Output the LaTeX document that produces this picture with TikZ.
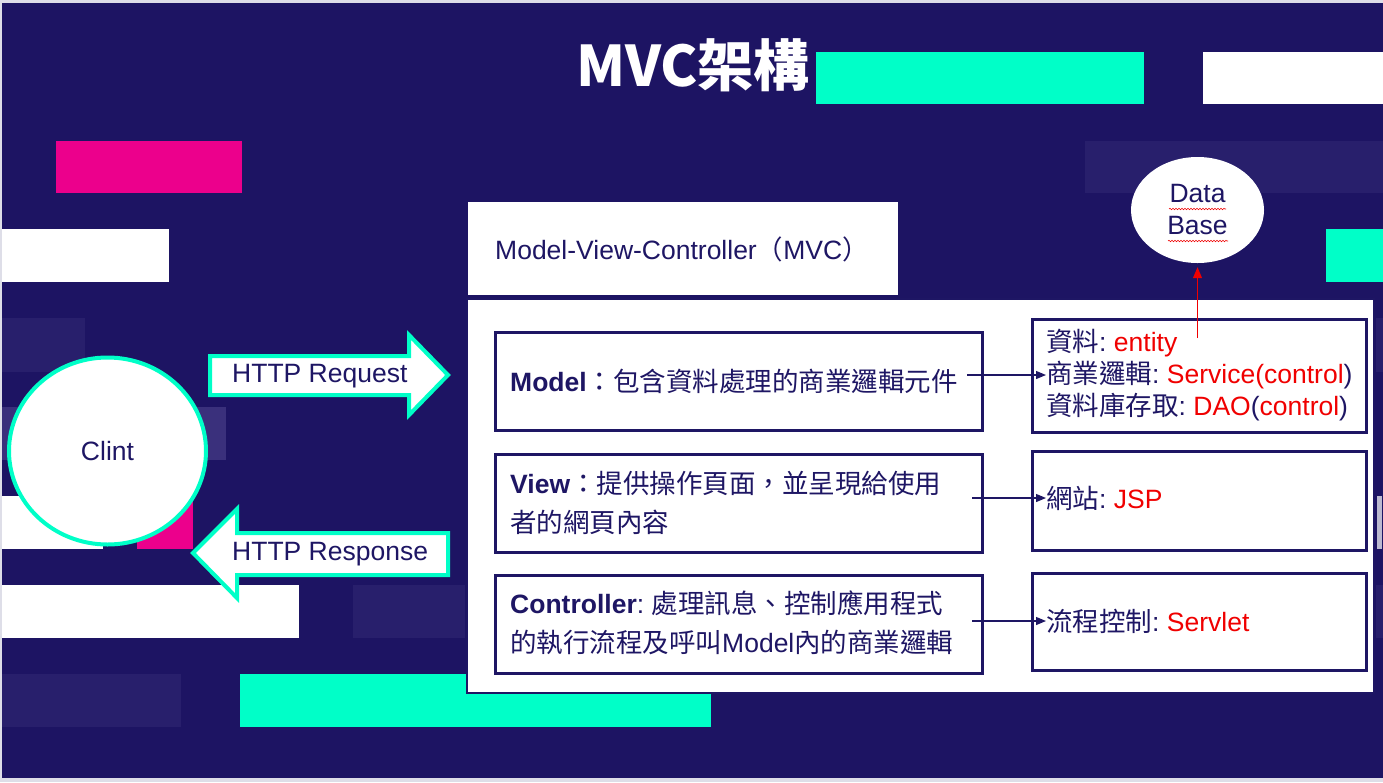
\documentclass[tikz,border=0pt]{standalone}
\usepackage{fontspec}
\setmainfont{Liberation Sans}
\newfontfamily\cjk{Noto Sans CJK TC}
\usetikzlibrary{arrows.meta,calc,shapes.geometric,decorations.pathmorphing}

\definecolor{navy}{RGB}{29,20,99}
\definecolor{ink}{RGB}{30,22,100}
\definecolor{mint}{RGB}{0,255,200}
\definecolor{hotpink}{RGB}{236,0,140}
\definecolor{dimA}{RGB}{40,31,108}
\definecolor{dimB}{RGB}{58,48,124}
\definecolor{pageframe}{RGB}{222,222,232}
\definecolor{alert}{RGB}{240,0,0}

\newcommand\txtsize{\fontsize{26.5}{39}\selectfont\frenchspacing}
\newcommand\listsize{\fontsize{26.5}{32}\selectfont\frenchspacing}

\begin{document}
\begin{tikzpicture}[x=1pt,y=-1pt,
  lbox/.style={draw=ink, line width=3pt, fill=white, minimum width=487pt,
    minimum height=98pt, inner sep=0pt, anchor=north west},
  rbox/.style={draw=ink, line width=3pt, fill=white, minimum width=334pt,
    minimum height=100pt, inner sep=0pt, anchor=north west},
  txt/.style={anchor=west, inner sep=0pt, text=ink, font=\txtsize, align=left},
  lst/.style={anchor=west, inner sep=0pt, text=ink, font=\listsize, align=left},
  link/.style={draw=ink, line width=1.2pt, -{Triangle[length=10pt,width=8pt]}},
  blockarrow/.style={draw=mint, line width=4pt, fill=white, line join=miter},
  squiggle/.style={draw=alert, line width=0.6pt, decorate,
    decoration={snake, amplitude=0.7pt, segment length=3pt}}]

\useasboundingbox (0,0) rectangle (1383,782);

% slide background
\fill[pageframe] (0,0) rectangle (1383,782);
\fill[navy] (1.5,3) rectangle (1383,778);

% decorative bars
\fill[mint] (816,52) rectangle (1144,104);
\fill[white] (1203,52) rectangle (1383,104);
\fill[hotpink] (56,141) rectangle (242,193);
\fill[dimA] (1085,141) rectangle (1383,193);
\fill[white] (1.5,229) rectangle (169,282);
\fill[mint] (1326,229) rectangle (1383,282);
\fill[dimA] (1.5,318) rectangle (85,372);
\fill[dimB] (1.5,407) rectangle (226,460);
\fill[white] (1.5,496) rectangle (103,549);
\fill[hotpink] (137,496) rectangle (193,549);
\fill[white] (1.5,585) rectangle (299,638);
\fill[dimA] (353,585) rectangle (465,638);
\fill[dimA] (1.5,674) rectangle (181,727);
\fill[mint] (240,674) rectangle (711,727);
\fill[dimA] (1376,318) rectangle (1383,372);
\fill[white!70!navy] (1377,496) rectangle (1382,549);
\fill[dimA] (1376,585) rectangle (1383,638);

% title
\node[text=white, font={\cjk\bfseries\fontsize{56}{60}\selectfont}, inner sep=0pt]
  (title) at (693,65) {MVC架構};

% panel and its heading
\node[draw=ink, line width=1.5pt, fill=white, anchor=north west,
  minimum width=907pt, minimum height=394pt, inner sep=0pt] (panel) at (466,298) {};
\node[fill=white, anchor=north west, minimum width=430pt, minimum height=93pt,
  inner sep=0pt] (head) at (468,202) {};
\node[txt] (headtxt) at (495,249) {Model-View-Controller{\cjk （}MVC{\cjk ）}};

% layer boxes
\node[lbox] (model) at (494,331) {};
\node[lbox] (view)  at (494,453) {};
\node[lbox] (ctrl)  at (494,574) {};
\node[txt] (mtxt) at (510,381) {{\bfseries Model}{\cjk ：包含資料處理的商業邏輯元件}};
\node[txt] (vtxt) at (510,503) {{\bfseries View}{\cjk ：提供操作頁面，並呈現給使用}\\{\cjk 者的網頁內容}};
\node[txt] (ctxt) at (510,623) {{\bfseries Controller}: {\cjk 處理訊息、控制應用程式}\\{\cjk 的執行流程及呼叫}Model{\cjk 內的商業邏輯}};

% implementation boxes
\node[rbox, minimum height=113pt] (mimpl) at (1031,318) {};
\node[rbox, minimum height=99pt]  (vimpl) at (1031,450) {};
\node[rbox, minimum height=97pt]  (cimpl) at (1031,572) {};
\node[lst] (mr) at (1046,375) {{\cjk 資料}: \textcolor{alert}{entity}\\
  {\cjk 商業邏輯}: \textcolor{alert}{Service(control}\kern0pt)\\
  {\cjk 資料庫存取}: \textcolor{alert}{DAO}(\textcolor{alert}{control})};
\node[lst] (vr) at (1046,498) {{\cjk 網站}: \textcolor{alert}{JSP}};
\node[lst] (cr) at (1046,621) {{\cjk 流程控制}: \textcolor{alert}{Servlet}};

\draw[link] ($(model.east |- mr.west)+(-17,0)$) -- (mr.west);
\draw[link] ($(view.east |- vr.west)+(-12,0)$) -- (vr.west);
\draw[link] ($(ctrl.east |- cr.west)+(-12,0)$) -- (cr.west);

% database
\node[ellipse, fill=white, minimum width=133pt, minimum height=106pt, inner sep=0pt,
  align=center, text=ink, font=\listsize] (db) at (1197.5,210) {Data\\Base};
\draw[squiggle] (1169,209) -- (1226,209);
\draw[squiggle] (1168,241) -- (1228,241);
\coordinate (dbfoot) at (1197.5,338);
\draw[alert, line width=1pt, -{Triangle[length=11pt,width=9pt]}, shorten >=4pt]
  (dbfoot) -- (db.south);

% client
\node[ellipse, draw=mint, line width=4pt, fill=white, minimum width=197pt,
  minimum height=187pt, inner sep=0pt, text=ink, font=\txtsize] (client) at (107.5,451) {Clint};

% request / response arrows
\draw[blockarrow] (210,356) -- (409,356) -- (409,335) -- (448,375) -- (409,415)
  -- (409,395) -- (210,395) -- cycle;
\node[txt] (req) at (232,376) {HTTP Request};
\draw[blockarrow] (448,533) -- (237,533) -- (237,509) -- (193,553) -- (237,598)
  -- (237,575) -- (448,575) -- cycle;
\node[txt] (resp) at (232,554) {HTTP Response};

\end{tikzpicture}
\end{document}
